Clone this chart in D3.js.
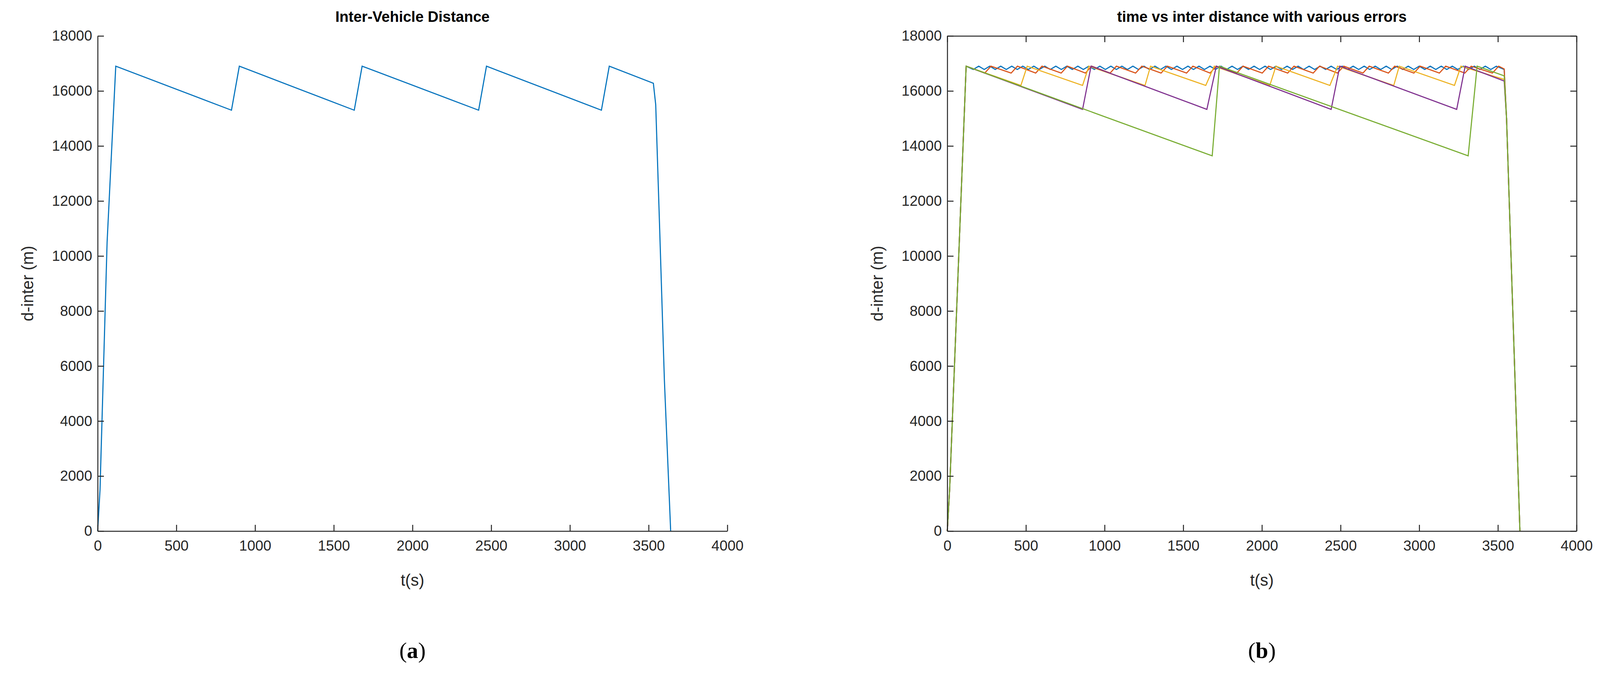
<!DOCTYPE html>
<html><head><meta charset="utf-8">
<script src="https://cdn.jsdelivr.net/npm/d3@7"></script>
<style>body{margin:0;background:#fff}text{font-family:"Liberation Sans",Arial,sans-serif}</style>
</head><body><svg id="c" width="4123" height="1726"></svg>
<script>
// left panel
var singleT = [0, 15, 60, 115, 850, 900, 1630, 1680, 2420, 2470, 3200, 3250, 3530, 3545, 3570, 3600, 3640];
var singleV = [0, 1500, 10500, 16900, 15300, 16900, 15300, 16900, 15300, 16900, 15300, 16900, 16280, 15500, 11000, 5500, 0];

// right panel, breakpoints per error level
var blueT = [0,15,120,165,200,235,270,305,340,375,410,445,480,515,550,585,620,655,690,725,760,795,830,865,900,935,970,1005,1040,1075,1110,1145,1180,1215,1250,1285,1320,1355,1390,1425,1460,1495,1530,1565,1600,1635,1670,1705,1740,1775,1810,1845,1880,1915,1950,1985,2020,2055,2090,2125,2160,2195,2230,2265,2300,2335,2370,2405,2440,2475,2510,2545,2580,2615,2650,2685,2720,2755,2790,2825,2860,2895,2930,2965,3000,3035,3070,3105,3140,3175,3210,3245,3280,3315,3350,3385,3420,3455,3490,3540,3555,3640];
var blueV = [0,1500,16900,16780,16900,16780,16900,16780,16900,16780,16900,16780,16900,16780,16900,16780,16900,16780,16900,16780,16900,16780,16900,16780,16900,16780,16900,16780,16900,16780,16900,16780,16900,16780,16900,16780,16900,16780,16900,16780,16900,16780,16900,16780,16900,16780,16900,16780,16900,16780,16900,16780,16900,16780,16900,16780,16900,16780,16900,16780,16900,16780,16900,16780,16900,16780,16900,16780,16900,16780,16900,16780,16900,16780,16900,16780,16900,16780,16900,16780,16900,16780,16900,16780,16900,16780,16900,16780,16900,16780,16900,16780,16900,16780,16900,16780,16900,16780,16900,16780,15000,0];
var redT = [0,15,120,238,278,406,446,562,602,724,764,878,918,1035,1075,1197,1237,1359,1399,1521,1561,1670,1710,1840,1880,2002,2042,2164,2204,2326,2366,2480,2520,2642,2682,2804,2844,2966,3006,3128,3168,3290,3330,3465,3505,3540,3555,3640];
var redV = [0,1500,16900,16650,16900,16650,16900,16650,16900,16650,16900,16650,16900,16650,16900,16650,16900,16650,16900,16650,16900,16650,16900,16650,16900,16650,16900,16650,16900,16650,16900,16650,16900,16650,16900,16650,16900,16650,16900,16650,16900,16650,16900,16650,16900,16800,15000,0];
var yellowT = [0,15,120,468,508,860,900,1257,1292,1643,1697,2050,2089,2432,2481,2838,2873,3224,3265,3540,3555,3640];
var yellowV = [0,1500,16900,16200,16900,16200,16900,16200,16900,16200,16900,16200,16900,16200,16900,16200,16900,16200,16900,16420,15000,0];
var purpleT = [0,15,120,860,914,1650,1710,2440,2495,3238,3292,3540,3555,3640];
var purpleV = [0,1500,16900,15330,16900,15330,16900,15330,16900,15330,16900,16360,15000,0];
var greenT = [0,15,120,1684,1730,3311,3368,3540,3555,3640];
var greenV = [0,1500,16900,13640,16900,13640,16900,16550,15000,0];

var series = [
  {t: blueT, v: blueV, color: "#0072BD"},
  {t: redT, v: redV, color: "#D95319"},
  {t: yellowT, v: yellowV, color: "#EDB120"},
  {t: purpleT, v: purpleV, color: "#7E2F8E"},
  {t: greenT, v: greenV, color: "#77AC30"}
];

var xTicks = [0,500,1000,1500,2000,2500,3000,3500,4000];
var yTicks = [0,2000,4000,6000,8000,10000,12000,14000,16000,18000];

var svg = d3.select("#c");
var plotTop = 92, plotBottom = 1360;

function panel(x0, x1, title, boxed, lines, caption) {
  var x = d3.scaleLinear().domain([0, 4000]).range([x0, x1]);
  var y = d3.scaleLinear().domain([0, 18000]).range([plotBottom, plotTop]);
  var g = svg.append("g");
  var tl = 16, fmt = d3.format("d");

  var line = d3.line().x(function(d){return x(d[0]);}).y(function(d){return y(d[1]);});
  lines.forEach(function(s) {
    g.append("path").datum(s.t.map(function(t,i){return [t, s.v[i]];}))
      .attr("d", line).attr("fill","none").attr("stroke", s.color).attr("stroke-width", 2.8);
  });

  g.append("g").attr("transform","translate(0,"+plotBottom+")")
    .call(d3.axisBottom(x).tickValues(xTicks).tickFormat(fmt).tickSizeInner(-tl).tickSizeOuter(0).tickPadding(24));
  g.append("g").attr("transform","translate("+x0+",0)")
    .call(d3.axisLeft(y).tickValues(yTicks).tickFormat(fmt).tickSizeInner(-tl).tickSizeOuter(0).tickPadding(14));
  if (boxed) {
    g.append("g").attr("transform","translate(0,"+plotTop+")")
      .call(d3.axisTop(x).tickValues(xTicks).tickSizeInner(-tl).tickSizeOuter(0).tickFormat(""));
    g.append("g").attr("transform","translate("+x1+",0)")
      .call(d3.axisRight(y).tickValues(yTicks).tickSizeInner(-tl).tickSizeOuter(0).tickFormat(""));
  }
  g.selectAll(".domain").attr("stroke","#262626").attr("stroke-width",2.5);
  g.selectAll(".tick line").attr("stroke","#262626").attr("stroke-width",2.5);
  g.selectAll(".tick text").attr("font-size",37).attr("fill","#262626")
    .style("font-family","'Liberation Sans',Arial,sans-serif");

  g.append("text").attr("x",(x0+x1)/2).attr("y",plotTop-36).attr("text-anchor","middle")
    .attr("font-size",38).attr("font-weight","bold").attr("fill","#000").text(title);
  g.append("text").attr("x",(x0+x1)/2).attr("y",plotBottom+140).attr("text-anchor","middle")
    .attr("font-size",42).attr("fill","#262626").text("t(s)");
  g.append("text").attr("transform","translate("+(x0-165)+","+((plotTop+plotBottom)/2)+") rotate(-90)")
    .attr("text-anchor","middle").attr("font-size",42).attr("fill","#262626").text("d-inter (m)");
  var cap = g.append("text").attr("x",(x0+x1)/2).attr("y",1685).attr("text-anchor","middle")
    .attr("font-size",58).style("font-family","'Liberation Serif','Times New Roman',serif");
  cap.append("tspan").text("(");
  cap.append("tspan").attr("font-weight","bold").text(caption);
  cap.append("tspan").text(")");
}

panel(250, 1862, "Inter-Vehicle Distance", false, [{t: singleT, v: singleV, color: "#0072BD"}], "a");
panel(2425, 4036, "time vs inter distance with various errors", true, series, "b");
</script></body></html>
